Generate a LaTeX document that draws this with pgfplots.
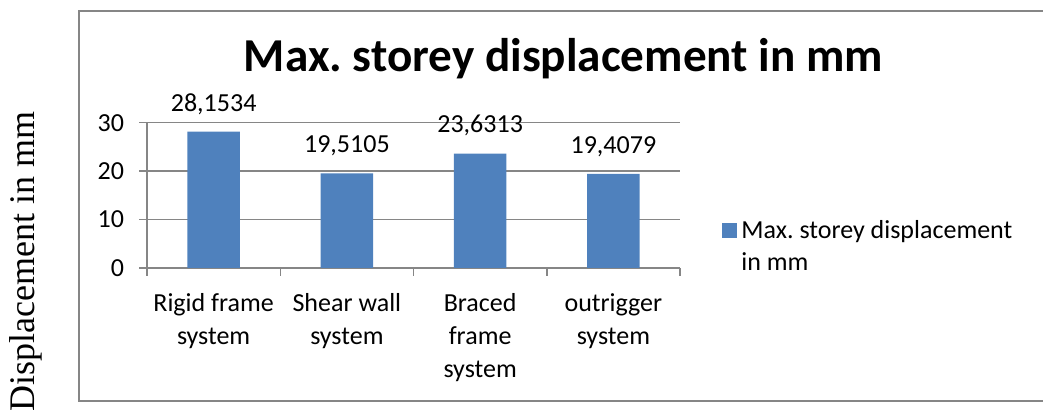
\documentclass[border=0pt]{standalone}
\usepackage{pgfplots}
\pgfplotsset{compat=1.18}
\usepackage{fontspec}
\setmainfont{Carlito}
\newfontfamily\timesfont{Liberation Serif}
\definecolor{barblue}{HTML}{4F81BD}
\definecolor{gridgray}{RGB}{134,134,134}
\frenchspacing
\begin{document}
\begin{tikzpicture}
\useasboundingbox (0,0) rectangle (521.5pt,207.5pt);
\draw[gridgray, line width=1pt] (39.5pt,6.75pt) rectangle (540pt,202pt);
\node[anchor=base, inner sep=0pt, font=\fontsize{23.6pt}{28pt}\selectfont\bfseries] at (281.75pt,171.65pt) {Max. storey displacement in mm};
\node[rotate=90, anchor=base, inner sep=0pt, font=\timesfont\fontsize{18pt}{22pt}\selectfont] at (17pt,76.75pt) {Displacement in mm};
\begin{axis}[
  at={(73.5pt,73.5pt)}, anchor=south west,
  width=266.5pt, height=72.65pt, scale only axis,
  xmin=0.5, xmax=4.5, ymin=0, ymax=30,
  ybar, bar width=26.25pt,
  xtick={0.5,1.5,2.5,3.5,4.5}, xticklabels={,,,,},
  extra x ticks={1,2,3,4},
  extra x tick labels={{Rigid frame\\system},{Shear wall\\system},{Braced\\frame\\system},{outrigger\\system}},
  extra x tick style={major tick length=0pt, grid=none},
  ytick={0,10,20,30}, yticklabels={0,10,20,30},
  tick align=outside, major tick length=4pt,
  ymajorgrids, grid style={gridgray, line width=0.75pt},
  axis x line*=bottom, axis y line*=left,
  axis line style={gridgray, line width=0.75pt, -},
  tick style={gridgray, line width=0.75pt},
  xticklabel style={align=center, anchor=north, inner sep=0pt, font=\fontsize{13pt}{16.5pt}\selectfont, yshift=-12.5pt},
  yticklabel style={anchor=east, inner sep=0pt, xshift=-7.3pt, font=\fontsize{13pt}{16pt}\selectfont},
  nodes near coords={\pgfplotspointmeta},
  point meta=explicit symbolic,
  nodes near coords style={anchor=base, inner sep=0pt, yshift=10.3pt, font=\fontsize{13pt}{16pt}\selectfont, text=black},
  legend style={at={(1.0788,0.1445)}, anchor=west, draw=none, fill=none, inner sep=0pt,
    font=\fontsize{13pt}{16.2pt}\selectfont, cells={align=left, anchor=west}},
  legend image code/.code={\fill[barblue] (0pt,4.25pt) rectangle (7.5pt,11.75pt);},
]
\addplot[fill=barblue, draw=none] coordinates {(1,28.1534) [28{,}1534] (2,19.5105) [19{,}5105] (3,23.6313) [23{,}6313] (4,19.4079) [19{,}4079]};
\addlegendentry{Max. storey displacement\\in mm}
\end{axis}
\end{tikzpicture}
\end{document}
